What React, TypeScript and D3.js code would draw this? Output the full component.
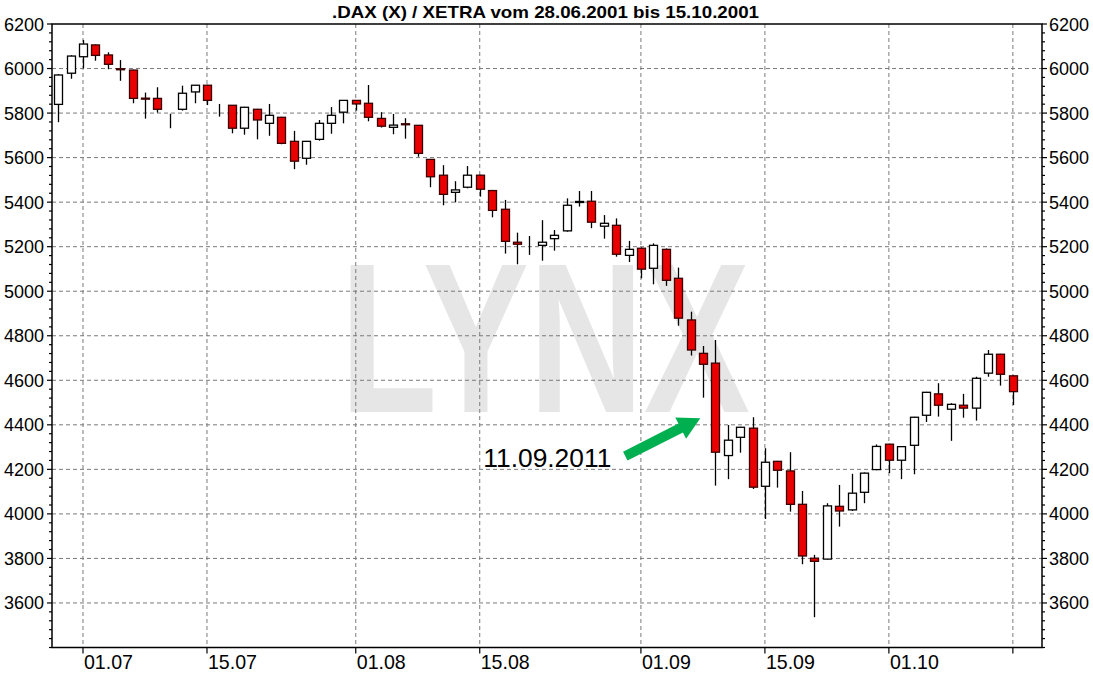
import React from "react";
import * as d3 from "d3";

const dates = [
  "28.06.2001","29.06.2001",
  "02.07.2001","03.07.2001","04.07.2001","05.07.2001","06.07.2001",
  "09.07.2001","10.07.2001","11.07.2001","12.07.2001","13.07.2001",
  "16.07.2001","17.07.2001","18.07.2001","19.07.2001","20.07.2001",
  "23.07.2001","24.07.2001","25.07.2001","26.07.2001","27.07.2001",
  "30.07.2001","31.07.2001",
  "01.08.2001","02.08.2001","03.08.2001",
  "06.08.2001","07.08.2001","08.08.2001","09.08.2001","10.08.2001",
  "13.08.2001","14.08.2001","15.08.2001","16.08.2001","17.08.2001",
  "20.08.2001","21.08.2001","22.08.2001","23.08.2001","24.08.2001",
  "27.08.2001","28.08.2001","29.08.2001","30.08.2001","31.08.2001",
  "03.09.2001","04.09.2001","05.09.2001","06.09.2001","07.09.2001",
  "10.09.2001","11.09.2001","12.09.2001","13.09.2001","14.09.2001",
  "17.09.2001","18.09.2001","19.09.2001","20.09.2001","21.09.2001",
  "24.09.2001","25.09.2001","26.09.2001","27.09.2001","28.09.2001",
  "01.10.2001","02.10.2001","03.10.2001","04.10.2001","05.10.2001",
  "08.10.2001","09.10.2001","10.10.2001","11.10.2001","12.10.2001",
  "15.10.2001",
];

const opens = [
  5839,5979,6053,6106,6061,5999,5993,5867,5866,5797,
  5817,5895,5925,5841,5835,5732,5817,5754,5781,5673,
  5597,5682,5754,5804,5857,5844,5776,5736,5752,5745,
  5592,5521,5444,5467,5521,5452,5368,5220,5248,5206,
  5236,5271,5399,5404,5292,5296,5161,5193,5103,5188,
  5058,4871,4721,4677,4262,4344,4385,4124,4236,4193,
  4043,3801,3797,4034,4018,4097,4199,4313,4241,4308,
  4443,4539,4470,4488,4475,4632,4717,4620,
];
const highs = [
  5975,6060,6128,6108,6073,6038,5995,5892,5916,5797,
  5923,5926,5927,5841,5836,5828,5819,5841,5783,5720,
  5675,5769,5827,5858,5858,5926,5804,5796,5777,5746,
  5593,5566,5494,5562,5523,5455,5410,5263,5248,5319,
  5275,5417,5450,5450,5342,5327,5226,5197,5215,5192,
  5106,4908,4754,4781,4399,4391,4434,4295,4238,4277,
  4103,3816,4048,4130,4180,4186,4312,4315,4304,4436,
  4548,4587,4497,4539,4616,4736,4719,4622,
];
const lows = [
  5759,5954,6001,6035,5997,5945,5844,5775,5802,5732,
  5811,5844,5836,5784,5709,5703,5682,5698,5660,5548,
  5568,5676,5707,5754,5811,5763,5735,5705,5685,5604,
  5467,5386,5399,5462,5425,5332,5169,5121,5163,5137,
  5182,5267,5380,5283,5236,5155,5131,5058,5031,5024,
  4845,4711,4522,4127,4156,4275,4112,3977,4118,4010,
  3774,3536,3795,3943,4013,4048,4196,4183,4156,4178,
  4413,4437,4328,4432,4419,4616,4576,4489,
];
const closes = [
  5971,6056,6110,6059,6019,5997,5866,5865,5817,5797,
  5889,5925,5857,5841,5732,5826,5769,5790,5664,5584,
  5673,5754,5790,5857,5841,5781,5741,5746,5750,5619,
  5514,5435,5455,5521,5458,5363,5224,5211,5248,5220,
  5251,5386,5403,5310,5305,5166,5188,5099,5206,5049,
  4879,4736,4672,4277,4331,4389,4120,4232,4196,4043,
  3811,3787,4036,4013,4093,4183,4303,4241,4302,4434,
  4546,4488,4492,4475,4609,4717,4627,4549,
];

const tickDates = ["02.07.2001","16.07.2001","01.08.2001","15.08.2001","03.09.2001","17.09.2001","01.10.2001","15.10.2001"];
const tickLabels = ["01.07","15.07","01.08","15.08","01.09","15.09","01.10",""];
const yTicks = [3600,3800,4000,4200,4400,4600,4800,5000,5200,5400,5600,5800,6000,6200];

const title = ".DAX (X) / XETRA vom 28.06.2001 bis 15.10.2001";
const annotationDate = "11.09.2001";
const annotationText = "11.09.2011";
const annotationValue = 4430;

const W = 1093, H = 674;
const M = { left: 52, right: 1042, top: 24, bottom: 647.5 };
const FONT = "'Liberation Sans', Arial, sans-serif";

export default function App() {
  const x = d3.scaleLinear().domain([-0.5, 79.35]).range([M.left, M.right]);
  const y = d3.scaleLinear().domain([3400, 6200]).range([M.bottom, M.top]);
  const minorTicks = d3.range(3400, 6201, 40);
  const bw = 8;

  const ai = dates.indexOf(annotationDate);
  const tipX = x(ai) - 15;
  const tipY = y(annotationValue);
  const tailX = tipX - 75;
  const tailY = tipY + 38;
  const dx = tipX - tailX, dy = tipY - tailY;
  const len = Math.hypot(dx, dy);
  const ux = dx / len, uy = dy / len;
  const px = -uy, py = ux;
  const hw = 5, headL = 22, headW = 12;
  const bx = tipX - ux * headL, by = tipY - uy * headL;
  const arrowPts = [
    [tailX + px * hw, tailY + py * hw],
    [bx + px * hw, by + py * hw],
    [bx + px * headW, by + py * headW],
    [tipX, tipY],
    [bx - px * headW, by - py * headW],
    [bx - px * hw, by - py * hw],
    [tailX - px * hw, tailY - py * hw],
  ];

  return (
    <svg width={W} height={H} style={{ position: "absolute", left: 0, top: 0, background: "#fff" }} fontFamily={FONT}>
      <rect x={0} y={0} width={W} height={H} fill="#fff" />
      {/* watermark */}
      <text x={340} y={412} fontSize={214} fontWeight="bold" fill="#e6e6e6" textLength={410} lengthAdjust="spacingAndGlyphs">LYNX</text>
      {/* grid */}
      {yTicks.filter(v => v < 6200).map(v => (
        <line key={"gy" + v} x1={M.left} x2={M.right} y1={y(v)} y2={y(v)} stroke="#7a7a7a" strokeWidth={1} strokeDasharray="4,3" />
      ))}
      {tickDates.map(dt => {
        const xx = x(dates.indexOf(dt));
        return <line key={"gx" + dt} x1={xx} x2={xx} y1={M.top} y2={M.bottom} stroke="#7a7a7a" strokeWidth={1} strokeDasharray="4,3" />;
      })}
      {/* candles */}
      {dates.map((d, i) => {
        const o = opens[i], c = closes[i], h = highs[i], l = lows[i];
        const cx = Math.round(x(i)) + 0.5;
        const up = c >= o;
        const top = y(Math.max(o, c)), bot = y(Math.min(o, c));
        return (
          <g key={d}>
            <line x1={cx} x2={cx} y1={y(h)} y2={y(l)} stroke="#000" strokeWidth={1.3} />
            {o !== c && (
              <rect x={cx - bw / 2} y={top} width={bw} height={Math.max(bot - top, 1)}
                fill={up ? "#fff" : "#ea0000"} stroke={up ? "#000" : "#3a0000"} strokeWidth={1.3} />
            )}
          </g>
        );
      })}
      {/* frame */}
      <rect x={M.left} y={M.top} width={M.right - M.left} height={M.bottom - M.top} fill="none" stroke="#000" strokeWidth={1.5} />
      {/* y ticks */}
      {minorTicks.map(v => {
        const major = v % 200 === 0 && v >= 3600;
        const L = major ? 5 : 3;
        return (
          <g key={"yt" + v}>
            <line x1={M.left - L} x2={M.left} y1={y(v)} y2={y(v)} stroke="#000" strokeWidth={1.2} />
            <line x1={M.right} x2={M.right + L} y1={y(v)} y2={y(v)} stroke="#000" strokeWidth={1.2} />
          </g>
        );
      })}
      {yTicks.map(v => (
        <g key={"yl" + v}>
          <text x={44} y={y(v) + 6.5} fontSize={18} textAnchor="end" fill="#000">{v}</text>
          <text x={1049} y={y(v) + 6.5} fontSize={18} textAnchor="start" fill="#000">{v}</text>
        </g>
      ))}
      {/* x ticks */}
      {tickDates.map((dt, k) => {
        const xx = x(dates.indexOf(dt));
        return (
          <g key={"xt" + dt}>
            <line x1={xx} x2={xx} y1={M.bottom} y2={M.bottom + 6} stroke="#000" strokeWidth={1.2} />
            {tickLabels[k] && (
              <text x={xx + 1} y={669} fontSize={21} fill="#000" textLength={49} lengthAdjust="spacingAndGlyphs">{tickLabels[k]}</text>
            )}
          </g>
        );
      })}
      {/* title */}
      <text x={W / 2 - 1} y={18} fontSize={17} fontWeight="bold" textAnchor="middle" fill="#000" textLength={427} lengthAdjust="spacingAndGlyphs">{title}</text>
      {/* annotation */}
      <polygon points={arrowPts.map(p => p.join(",")).join(" ")} fill="#00b050" />
      <text x={tailX - 142} y={tailY + 11} fontSize={26} fill="#000" textLength={128} lengthAdjust="spacingAndGlyphs">{annotationText}</text>
    </svg>
  );
}
